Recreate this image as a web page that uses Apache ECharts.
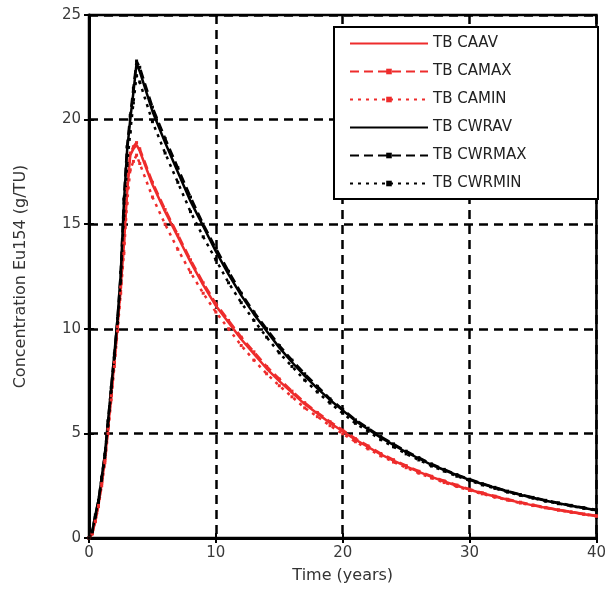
<!DOCTYPE html>
<html>
<head>
<meta charset="utf-8">
<script src="https://cdn.jsdelivr.net/npm/echarts@6/dist/echarts.min.js"></script>
<style>
  html, body { margin: 0; padding: 0; background: #fff; }
  #chart { width: 609px; height: 589px; }
</style>
</head>
<body>
<div id="chart"></div>
<script>
// time axis (years)
const years = [0, 0.25, 0.5, 0.75, 1, 1.25, 1.5, 1.75, 2, 2.25, 2.5, 2.75, 3, 3.25, 3.5, 3.75,
  4, 5, 6, 7, 8, 9, 10, 11, 12, 13, 14, 15, 16, 17, 18, 19, 20, 21, 22, 23, 24, 25, 26, 27, 28, 29,
  30, 31, 32, 33, 34, 35, 36, 37, 38, 39, 40];

const tbcaAv = [0, 0.2, 0.8, 1.6, 2.6, 3.7, 5.2, 6.8, 8.4, 10.1, 12.0, 14.0, 16.5, 18.3, 18.6, 18.8,
  18.5, 16.9, 15.6, 14.4, 13.2, 12.1, 11.1, 10.3, 9.5, 8.8, 8.1, 7.5, 6.95, 6.4, 5.95, 5.5, 5.1, 4.7, 4.35, 4.0,
  3.7, 3.42, 3.16, 2.92, 2.7, 2.5, 2.31, 2.14, 1.98, 1.83, 1.69, 1.56, 1.45, 1.34, 1.24, 1.14, 1.05];
const tbcaMax = [0, 0.2, 0.8, 1.6, 2.6, 3.7, 5.2, 6.8, 8.4, 10.1, 12.0, 14.1, 16.7, 18.4, 18.7, 18.9,
  18.6, 17.0, 15.7, 14.5, 13.3, 12.2, 11.2, 10.4, 9.6, 8.9, 8.2, 7.6, 7.02, 6.47, 6.0, 5.56, 5.15, 4.75, 4.4, 4.04,
  3.74, 3.46, 3.19, 2.95, 2.73, 2.53, 2.33, 2.16, 2.0, 1.85, 1.71, 1.58, 1.46, 1.35, 1.25, 1.15, 1.06];
const tbcaMin = [0, 0.2, 0.8, 1.5, 2.5, 3.6, 5.0, 6.6, 8.2, 9.9, 11.7, 13.6, 16.0, 17.6, 18.0, 18.3,
  17.9, 16.3, 15.0, 13.8, 12.7, 11.7, 10.8, 10.0, 9.2, 8.5, 7.85, 7.28, 6.75, 6.22, 5.8, 5.37, 4.98, 4.6, 4.26, 3.93,
  3.63, 3.36, 3.1, 2.87, 2.65, 2.46, 2.27, 2.11, 1.95, 1.81, 1.67, 1.55, 1.44, 1.33, 1.23, 1.13, 1.04];

const tbcwrAv = [0, 0.3, 1.1, 1.8, 2.9, 4.0, 5.6, 7.2, 8.8, 10.5, 12.6, 16.0, 18.5, 20.0, 21.3, 22.7,
  22.3, 20.4, 18.9, 17.5, 16.1, 14.9, 13.7, 12.6, 11.6, 10.7, 9.9, 9.1, 8.4, 7.75, 7.15, 6.6, 6.1, 5.6, 5.2, 4.8,
  4.45, 4.1, 3.8, 3.5, 3.25, 3.0, 2.78, 2.58, 2.4, 2.22, 2.06, 1.92, 1.78, 1.66, 1.54, 1.43, 1.33];
const tbcwrMax = [0, 0.3, 1.1, 1.8, 2.9, 4.0, 5.6, 7.2, 8.8, 10.5, 12.7, 16.2, 18.7, 20.2, 21.5, 22.8,
  22.5, 20.6, 19.1, 17.7, 16.3, 15.0, 13.85, 12.75, 11.7, 10.8, 10.0, 9.2, 8.5, 7.85, 7.25, 6.65, 6.15, 5.65, 5.25, 4.85,
  4.5, 4.15, 3.84, 3.54, 3.28, 3.03, 2.81, 2.6, 2.42, 2.24, 2.08, 1.94, 1.8, 1.68, 1.56, 1.45, 1.35];
const tbcwrMin = [0, 0.3, 1.0, 1.7, 2.8, 3.9, 5.4, 7.0, 8.6, 10.3, 12.3, 15.4, 17.8, 19.4, 20.8, 22.1,
  21.8, 19.9, 18.4, 17.0, 15.6, 14.4, 13.3, 12.2, 11.25, 10.4, 9.6, 8.85, 8.2, 7.55, 6.98, 6.45, 5.96, 5.48, 5.1, 4.7,
  4.36, 4.02, 3.73, 3.44, 3.2, 2.95, 2.74, 2.54, 2.37, 2.19, 2.04, 1.9, 1.76, 1.64, 1.53, 1.42, 1.32];

const xTicks = [0, 10, 20, 30, 40];
const yTicks = [0, 5, 10, 15, 20, 25];

const RED = '#ee2c2c';
const BLACK = '#000';

const pairs = (vals) => years.map((t, i) => [t, vals[i]]);

const makeSeries = (name, vals, color, type, marked) => ({
  name: name,
  type: 'line',
  data: pairs(vals),
  smooth: false,
  symbol: marked ? 'rect' : 'none',
  symbolSize: 3,
  showSymbol: marked,
  showAllSymbol: true,
  itemStyle: { color: color },
  lineStyle: { color: color, width: 2.5, type: type },
  emphasis: { disabled: true },
  animation: false
});

const myChart = echarts.init(document.getElementById('chart'));

const option = {
  backgroundColor: '#fff',
  textStyle: { fontFamily: 'DejaVu Sans' },
  grid: {
    left: 89,
    right: 12,
    top: 15,
    bottom: 49,
    show: true,
    borderColor: '#000',
    borderWidth: 2.5
  },
  legend: {
    orient: 'vertical',
    left: 334,
    top: 27,
    padding: [9, 15, 8, 15],
    itemWidth: 78,
    itemHeight: 7,
    itemGap: 13,
    backgroundColor: '#fff',
    borderColor: '#000',
    borderWidth: 2,
    borderRadius: 0,
    textStyle: {
      fontSize: 15,
      lineHeight: 14,
      width: 150,
      color: '#222',
      fontFamily: 'DejaVu Sans'
    },
    // the AV entries show a plain line, no marker
    data: [
      { name: 'TB CAAV', itemStyle: { opacity: 0 } },
      'TB CAMAX',
      'TB CAMIN',
      { name: 'TB CWRAV', itemStyle: { opacity: 0 } },
      'TB CWRMAX',
      'TB CWRMIN'
    ]
  },
  xAxis: [
    {
      type: 'value',
      min: xTicks[0],
      max: xTicks[xTicks.length - 1],
      interval: 10,
      name: 'Time (years)',
      nameLocation: 'middle',
      nameGap: 30,
      nameTextStyle: { fontSize: 16, color: '#333' },
      axisLine: { show: true, onZero: false, lineStyle: { color: '#000', width: 3 } },
      axisTick: { show: true, inside: true, length: 5, lineStyle: { color: '#000', width: 2 } },
      axisLabel: { fontSize: 15, color: '#3a3a3a', margin: 8 },
      splitLine: { show: true, lineStyle: { color: '#000', width: 2.5, type: [9, 6] } }
    },
    {
      type: 'value',
      position: 'top',
      min: xTicks[0],
      max: xTicks[xTicks.length - 1],
      interval: 10,
      axisLine: { show: false },
      axisTick: { show: true, inside: true, length: 5, lineStyle: { color: '#000', width: 2 } },
      axisLabel: { show: false },
      splitLine: { show: false }
    }
  ],
  yAxis: [
    {
      type: 'value',
      min: yTicks[0],
      max: yTicks[yTicks.length - 1],
      interval: 5,
      name: 'Concentration Eu154 (g/TU)',
      nameLocation: 'middle',
      nameRotate: 90,
      nameGap: 60,
      nameTextStyle: { fontSize: 16, color: '#333' },
      axisLine: { show: true, onZero: false, lineStyle: { color: '#000', width: 3 } },
      axisTick: { show: true, inside: true, length: 5, lineStyle: { color: '#000', width: 2 } },
      axisLabel: { fontSize: 15, color: '#3a3a3a', margin: 8 },
      splitLine: { show: true, lineStyle: { color: '#000', width: 2.5, type: [9, 6] } }
    },
    {
      type: 'value',
      position: 'right',
      min: yTicks[0],
      max: yTicks[yTicks.length - 1],
      interval: 5,
      axisLine: { show: false },
      axisTick: { show: true, inside: true, length: 5, lineStyle: { color: '#000', width: 2 } },
      axisLabel: { show: false },
      splitLine: { show: false }
    }
  ],
  series: [
    makeSeries('TB CAAV', tbcaAv, RED, 'solid', false),
    makeSeries('TB CAMAX', tbcaMax, RED, [9, 5], true),
    makeSeries('TB CAMIN', tbcaMin, RED, [3, 5], true),
    makeSeries('TB CWRAV', tbcwrAv, BLACK, 'solid', false),
    makeSeries('TB CWRMAX', tbcwrMax, BLACK, [9, 5], true),
    makeSeries('TB CWRMIN', tbcwrMin, BLACK, [3, 5], true)
  ]
};

option && myChart.setOption(option);
window.addEventListener('resize', myChart.resize);
</script>
</body>
</html>
